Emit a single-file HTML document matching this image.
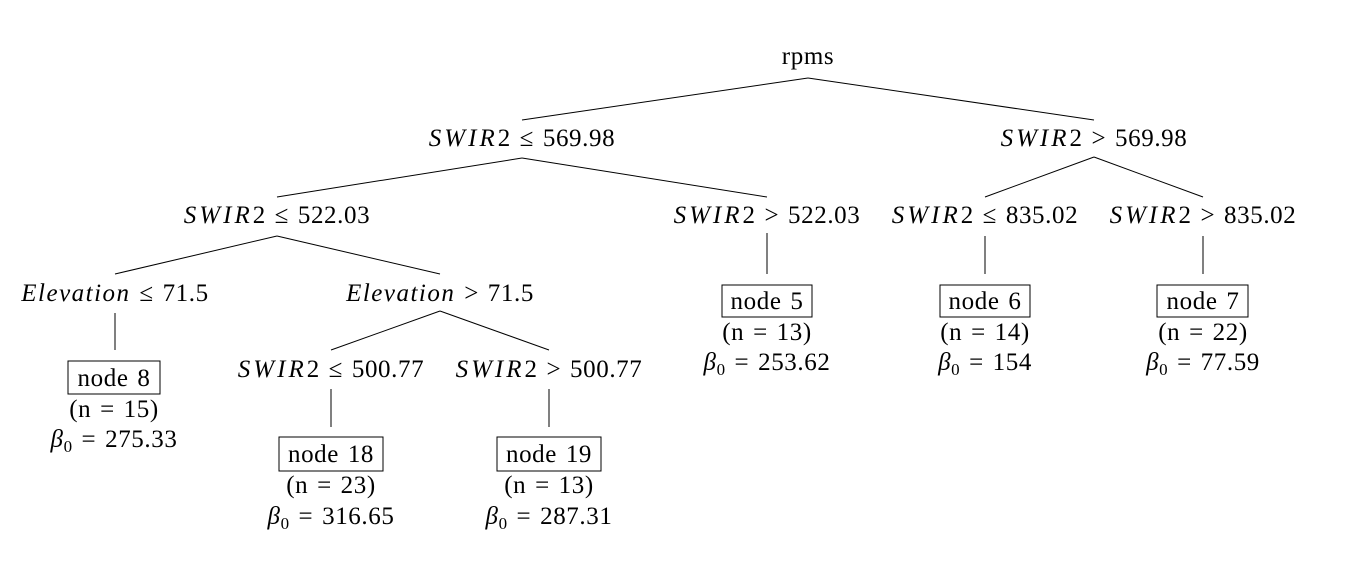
<!DOCTYPE html>
<html><head><meta charset="utf-8"><style>
html,body{margin:0;padding:0;background:#fff;}
svg{display:block;font-family:"Liberation Serif",serif;font-size:25px;letter-spacing:0.6px;word-spacing:2px;fill:#000;}
.i{font-style:italic;letter-spacing:3px;}
</style></head><body>
<svg width="1352" height="566" viewBox="0 0 1352 566" id="tree">
<g stroke="#000" stroke-width="1" fill="none">
<line x1="808" y1="78" x2="522" y2="120"/><line x1="808" y1="78" x2="1094" y2="120"/>
<line x1="522" y1="158" x2="277" y2="197"/><line x1="522" y1="158" x2="767" y2="197"/>
<line x1="1094" y1="157" x2="985" y2="197"/><line x1="1094" y1="157" x2="1203" y2="197"/>
<line x1="277" y1="236" x2="115" y2="274"/><line x1="277" y1="236" x2="440" y2="274"/>
<line x1="767" y1="233" x2="767" y2="274"/><line x1="985" y1="236" x2="985" y2="274"/><line x1="1203" y1="236" x2="1203" y2="274"/>
<line x1="115" y1="313" x2="115" y2="350"/>
<line x1="440" y1="311" x2="331" y2="350"/><line x1="440" y1="311" x2="549" y2="350"/>
<line x1="331" y1="389" x2="331" y2="427"/><line x1="549" y1="389" x2="549" y2="427"/>
<rect x="722" y="285" width="90" height="32"/><rect x="940" y="285" width="90" height="32"/><rect x="1157" y="285" width="91" height="32"/>
<rect x="68" y="361" width="92" height="33"/><rect x="279" y="437" width="104" height="34"/><rect x="497" y="437" width="104" height="34"/>
</g>
<g text-anchor="middle">
<text x="808" y="64">rpms</text>
<text x="522" y="146"><tspan class="i">SWIR</tspan>2 ≤ 569.98</text>
<text x="1094" y="146"><tspan class="i">SWIR</tspan>2 &gt; 569.98</text>
<text x="277" y="223"><tspan class="i">SWIR</tspan>2 ≤ 522.03</text>
<text x="767" y="223"><tspan class="i">SWIR</tspan>2 &gt; 522.03</text>
<text x="985" y="223"><tspan class="i">SWIR</tspan>2 ≤ 835.02</text>
<text x="1203" y="223"><tspan class="i">SWIR</tspan>2 &gt; 835.02</text>
<text x="115" y="301"><tspan class="i" style="letter-spacing:1.5px">Elevation</tspan> ≤ 71.5</text>
<text x="440" y="301"><tspan class="i" style="letter-spacing:1.5px">Elevation</tspan> &gt; 71.5</text>
<text x="331" y="377"><tspan class="i">SWIR</tspan>2 ≤ 500.77</text>
<text x="549" y="377"><tspan class="i">SWIR</tspan>2 &gt; 500.77</text>

<g><text x="767" y="309">node 5</text><text x="767" y="340">(n = 13)</text><text x="767" y="370"><tspan font-style="italic">β</tspan><tspan font-size="17" dy="5">0</tspan><tspan dy="-5"> = 253.62</tspan></text></g>
<g><text x="985" y="309">node 6</text><text x="985" y="340">(n = 14)</text><text x="985" y="370"><tspan font-style="italic">β</tspan><tspan font-size="17" dy="5">0</tspan><tspan dy="-5"> = 154</tspan></text></g>
<g><text x="1203" y="309">node 7</text><text x="1203" y="340">(n = 22)</text><text x="1203" y="370"><tspan font-style="italic">β</tspan><tspan font-size="17" dy="5">0</tspan><tspan dy="-5"> = 77.59</tspan></text></g>
<g><text x="114" y="386">node 8</text><text x="114" y="417">(n = 15)</text><text x="114" y="447"><tspan font-style="italic">β</tspan><tspan font-size="17" dy="5">0</tspan><tspan dy="-5"> = 275.33</tspan></text></g>
<g><text x="331" y="462">node 18</text><text x="331" y="493">(n = 23)</text><text x="331" y="524"><tspan font-style="italic">β</tspan><tspan font-size="17" dy="5">0</tspan><tspan dy="-5"> = 316.65</tspan></text></g>
<g><text x="549" y="462">node 19</text><text x="549" y="493">(n = 13)</text><text x="549" y="524"><tspan font-style="italic">β</tspan><tspan font-size="17" dy="5">0</tspan><tspan dy="-5"> = 287.31</tspan></text></g>
</g>
</svg>
</body></html>
